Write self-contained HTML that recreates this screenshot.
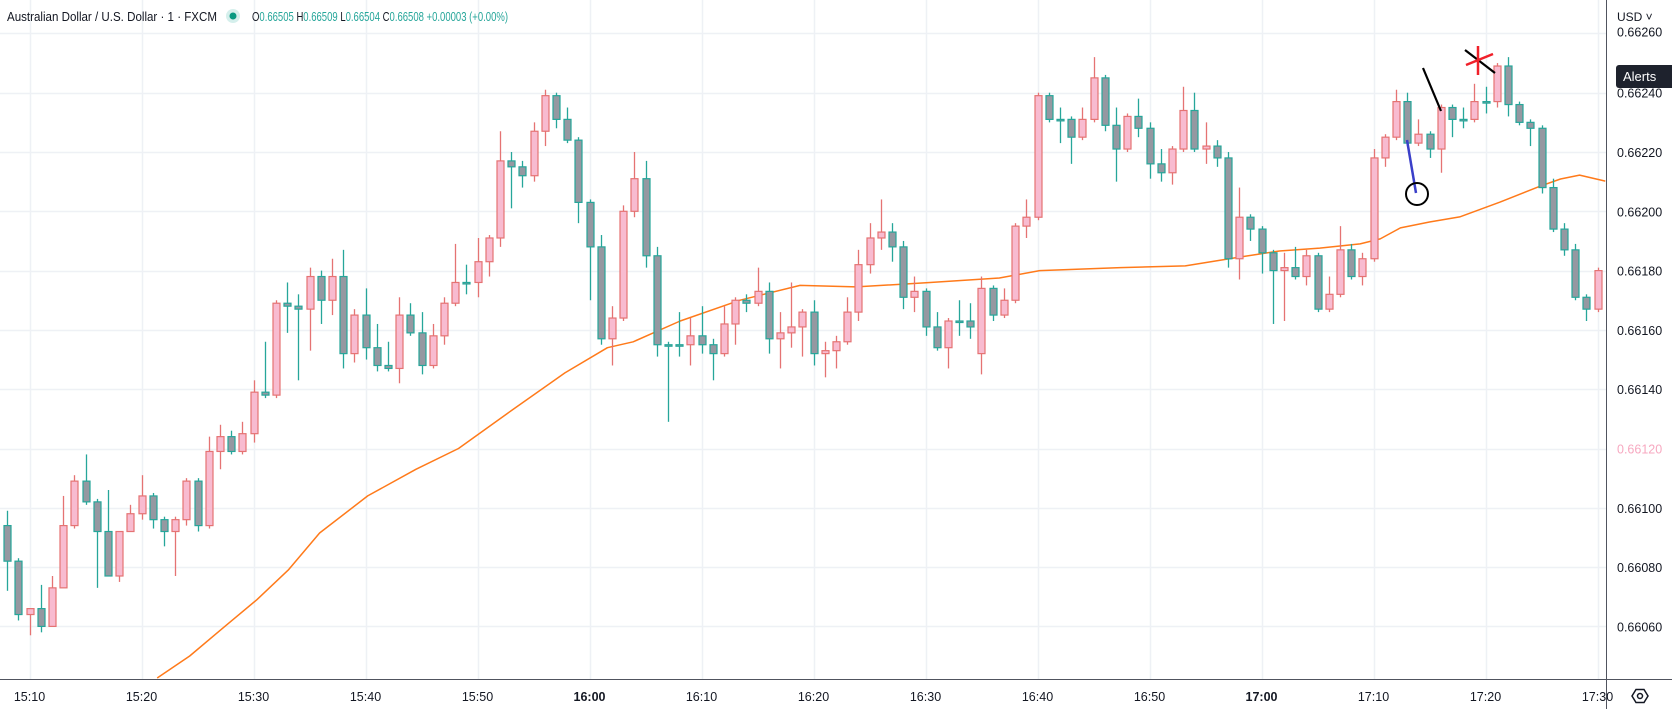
<!DOCTYPE html>
<html><head><meta charset="utf-8"><style>
html,body{margin:0;padding:0;background:#fff;width:1672px;height:709px;overflow:hidden;font-family:"Liberation Sans",sans-serif}
svg{display:block}
</style></head><body>
<svg id="chart" width="1672" height="709" viewBox="0 0 1672 709" xmlns="http://www.w3.org/2000/svg">
<defs><clipPath id="plotclip"><rect x="0" y="0" width="1606" height="679"/></clipPath></defs>
<g id="grid"></g>
<g id="ma" clip-path="url(#plotclip)"></g>
<g id="candles" clip-path="url(#plotclip)"></g>
<g id="drawings">
<line x1="1407" y1="140" x2="1416" y2="193" stroke="#3a3fc9" stroke-width="2.5"/>
<circle cx="1417" cy="194" r="11" fill="none" stroke="#000" stroke-width="2"/>
<line x1="1423" y1="68" x2="1441" y2="111" stroke="#000" stroke-width="2.2"/>
<line x1="1465" y1="50" x2="1495" y2="73" stroke="#000" stroke-width="2.2"/>
<line x1="1466" y1="65" x2="1493" y2="54" stroke="#f0202a" stroke-width="2.5"/>
<line x1="1478" y1="46" x2="1478" y2="75" stroke="#f0202a" stroke-width="2.5"/>
</g>
<rect x="0" y="679" width="1672" height="30" fill="#fff"/>
<rect x="1607" y="0" width="65" height="679" fill="#fff"/>
<line x1="0" y1="679.5" x2="1672" y2="679.5" stroke="#50535e" stroke-width="1"/>
<line x1="1606.5" y1="0" x2="1606.5" y2="709" stroke="#50535e" stroke-width="1"/>
<g id="yticks"></g>
<g id="xticks"></g>
<rect x="1608" y="0" width="64" height="27" fill="#fff"/>
<text x="1617" y="21" font-size="12" fill="#131722">USD ˅</text>
<g><rect x="1616" y="65" width="60" height="23" rx="3" fill="#1e222d"/><text x="1623" y="81" font-size="13" fill="#fff">Alerts</text></g>
<g transform="translate(1640,696)"><polygon points="-8,0 -4,-6.5 4,-6.5 8,0 4,6.5 -4,6.5" fill="none" stroke="#131722" stroke-width="1.5"/><circle r="2.5" fill="none" stroke="#131722" stroke-width="1.5"/></g>
<g>
<text x="7" y="21" font-size="13" fill="#131722" textLength="210" lengthAdjust="spacingAndGlyphs">Australian Dollar / U.S. Dollar · 1 · FXCM</text>
<circle cx="233" cy="16" r="7" fill="#d5efec"/><circle cx="233" cy="16" r="3.5" fill="#089981"/>
<text x="252" y="21" font-size="12.5" fill="#26a69a" textLength="256" lengthAdjust="spacingAndGlyphs"><tspan fill="#131722">O</tspan>0.66505 <tspan fill="#131722">H</tspan>0.66509 <tspan fill="#131722">L</tspan>0.66504 <tspan fill="#131722">C</tspan>0.66508 +0.00003 (+0.00%)</text>
</g>
</svg>
<script>
// chart data (prices in 1e-5 units, 0.66xxx)
const startMinute = -2; // first candle at 15:08 (minutes relative to 15:10)
const opens = [66094,66082,66064,66066,66060,66073,66094,66109,66102,66092,66077,66092,66098,66104,66096,66092,66096,66109,66094,66119,66124,66119,66125,66139,66138,66169,66168,66167,66178,66170,66178,66152,66165,66154,66148,66147,66165,66159,66148,66158,66169,66176,66176,66183,66191,66217,66215,66212,66227,66239,66231,66224,66203,66188,66157,66164,66200,66211,66185,66155,66155,66155,66158,66155,66152,66162,66170,66169,66173,66157,66159,66161,66166,66152,66153,66156,66166,66182,66191,66193,66188,66171,66173,66161,66154,66163,66163,66152,66174,66165,66170,66195,66198,66239,66231,66231,66225,66231,66245,66229,66221,66232,66228,66216,66213,66221,66234,66221,66222,66218,66184,66198,66194,66186,66180,66181,66178,66185,66167,66172,66187,66178,66184,66218,66225,66237,66223,66226,66221,66235,66231,66231,66237,66237,66249,66236,66230,66228,66208,66194,66187,66171,66167];
const highs = [66099,66083,66066,66074,66077,66104,66111,66118,66103,66106,66092,66101,66111,66105,66097,66097,66110,66110,66124,66128,66126,66129,66143,66156,66170,66176,66172,66181,66180,66184,66187,66167,66174,66162,66156,66171,66169,66166,66162,66171,66189,66182,66191,66192,66227,66220,66217,66230,66241,66240,66235,66225,66204,66192,66168,66202,66220,66217,66188,66156,66166,66164,66168,66157,66168,66171,66172,66181,66176,66166,66176,66167,66170,66156,66158,66171,66187,66196,66204,66196,66190,66178,66174,66166,66164,66170,66169,66178,66175,66174,66196,66204,66240,66240,66235,66232,66235,66252,66246,66235,66233,66238,66230,66221,66222,66242,66240,66230,66224,66220,66208,66199,66195,66187,66186,66188,66187,66186,66178,66195,66189,66186,66221,66226,66241,66240,66231,66227,66236,66236,66235,66243,66242,66250,66252,66237,66231,66229,66211,66196,66189,66172,66181];
const lows = [66072,66062,66057,66058,66060,66073,66093,66101,66073,66077,66075,66092,66096,66093,66087,66077,66094,66092,66093,66113,66118,66118,66122,66137,66137,66159,66143,66153,66162,66165,66147,66149,66150,66146,66146,66142,66158,66145,66147,66155,66168,66172,66171,66178,66188,66201,66208,66210,66222,66228,66223,66196,66170,66155,66148,66163,66198,66181,66151,66129,66151,66148,66152,66143,66151,66155,66166,66168,66152,66147,66154,66151,66148,66144,66147,66155,66163,66179,66187,66183,66167,66166,66158,66153,66147,66158,66157,66145,66163,66164,66169,66191,66197,66230,66223,66216,66224,66230,66227,66210,66220,66225,66211,66210,66209,66220,66220,66216,66215,66181,66177,66190,66179,66162,66163,66177,66175,66166,66166,66171,66177,66175,66183,66215,66224,66222,66222,66218,66213,66225,66228,66230,66233,66235,66232,66229,66222,66206,66193,66185,66170,66163,66166];
const closes = [66082,66064,66066,66060,66073,66094,66109,66102,66092,66077,66092,66098,66104,66096,66092,66096,66109,66094,66119,66124,66119,66125,66139,66138,66169,66168,66167,66178,66170,66178,66152,66165,66154,66148,66147,66165,66159,66148,66158,66169,66176,66176,66183,66191,66217,66215,66212,66227,66239,66231,66224,66203,66188,66157,66164,66200,66211,66185,66155,66155,66155,66158,66155,66152,66162,66170,66169,66173,66157,66159,66161,66166,66152,66153,66156,66166,66182,66191,66193,66188,66171,66173,66161,66154,66163,66163,66161,66174,66165,66170,66195,66198,66239,66231,66231,66225,66231,66245,66229,66221,66232,66228,66216,66213,66221,66234,66221,66222,66218,66184,66198,66194,66186,66180,66181,66178,66185,66167,66172,66187,66178,66184,66218,66225,66237,66223,66226,66221,66235,66231,66231,66237,66237,66249,66236,66230,66228,66208,66194,66187,66171,66167,66180];
const maMinutes = [11.4,14.3,17.6,20.3,23.1,25.9,30.2,34.5,38.3,43.1,47.8,51.6,53.9,58.1,63.4,68.8,73.8,80.4,86.6,90.2,97.4,103.2,108.1,111.6,115.2,118.8,120.6,122.4,125,127.7,131.3,134.9,136.7,138.4,140.7];
const maValues = [66042.6,66050,66060.5,66069,66079,66091.5,66104,66113,66120,66133,66145.5,66154,66156,66163,66170,66175,66174.5,66176,66177.5,66180,66181,66181.6,66184.6,66186.6,66187.6,66189,66190.7,66194.4,66196.4,66198.1,66203.1,66208.5,66210.9,66212.2,66210.2];
const yTickValues = [66260,66240,66220,66200,66180,66160,66140,66120,66100,66080,66060];
const xTickMinutes = [0,10,20,30,40,50,60,70,80,90,100,110,120,130,140];
const xTickLabels = ["15:10","15:20","15:30","15:40","15:50","16:00","16:10","16:20","16:30","16:40","16:50","17:00","17:10","17:20","17:30"];
const lastPriceLabel = 66120;

const NS = "http://www.w3.org/2000/svg";
function xScale(m){ return 29.5 + m*11.2; }
function yScale(p){ return 152 + (66220 - p)*2.965; }
function mk(tag, attrs, parent){ const e=document.createElementNS(NS,tag); for(const k in attrs) e.setAttribute(k,attrs[k]); parent.appendChild(e); return e; }

const grid=document.getElementById('grid');
yTickValues.forEach(v=>{ const y=Math.round(yScale(v))+0.5;
  const l=mk('line',{x1:0,x2:1606,y1:y,y2:y,stroke:'#eef1f5','stroke-width':1.5},grid);
  
  
});
xTickMinutes.forEach(m=>{ const x=Math.round(xScale(m))+0.5;
  const l=mk('line',{x1:x,x2:x,y1:0,y2:679,stroke:'#eef1f5','stroke-width':1.5},grid);
  
  
});
const yt=document.getElementById('yticks');
yTickValues.forEach(v=>{
  const t=mk('text',{x:1617,y:yScale(v)+(v===66260?3:5),'font-size':12.5,fill:'#131722'},yt);
  t.textContent=(v/100000).toFixed(5);
  
  
});
{
  const lp=mk('rect',{x:1608,y:yScale(lastPriceLabel)-10,width:64,height:20,fill:'#fff'},yt);
  
  
  const t=mk('text',{x:1617,y:yScale(lastPriceLabel)+5,'font-size':12.5,fill:'#f7a8c0'},yt);
  t.textContent=(lastPriceLabel/100000).toFixed(5);
  
  
}
const xt=document.getElementById('xticks');
xTickMinutes.forEach((m,i)=>{
  const t=mk('text',{x:xScale(m),y:701,'font-size':12.5,fill:'#131722','text-anchor':'middle','font-weight':(xTickLabels[i]==='16:00'||xTickLabels[i]==='17:00')?'bold':'normal'},xt);
  t.textContent=xTickLabels[i];
  
  
});
const maG=document.getElementById('ma');
{
  const d=maMinutes.map((m,i)=>(i?'L':'M')+xScale(m).toFixed(1)+','+yScale(maValues[i]).toFixed(1)).join(' ');
  const p=mk('path',{d:d,fill:'none',stroke:'#ff7a1a','stroke-width':1.5,'stroke-linejoin':'round'},maG);
  
  
}
const cg=document.getElementById('candles');
opens.forEach((o,i)=>{
  const c=closes[i], h=highs[i], l=lows[i];
  const x=Math.round(xScale(startMinute+i));
  const up=c>o;
  const g=mk('g',{},cg);
  
  
  const wc=up?'#e57373':'#26a69a';
  const w=mk('line',{x1:x+0.5,x2:x+0.5,y1:yScale(h),y2:yScale(l),stroke:wc,'stroke-width':1.3},g);
  
  
  const top=yScale(Math.max(o,c)), bot=yScale(Math.min(o,c));
  const b=mk('rect',{x:x-3,y:top,width:7,height:Math.max(bot-top,1.5),fill:up?'#f8bbd0':'#9598a1',stroke:wc,'stroke-width':1.2},g);
  
  
});
</script>
</body></html>
